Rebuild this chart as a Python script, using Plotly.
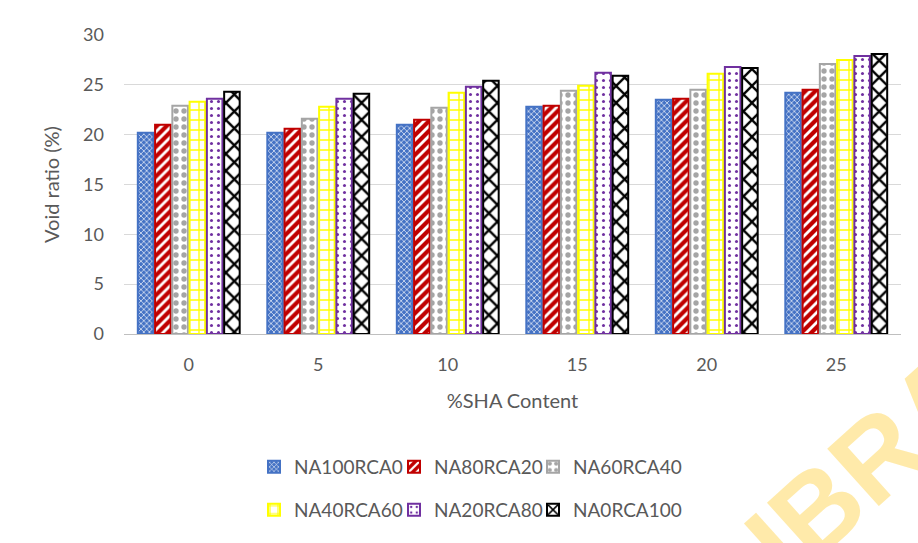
import plotly.graph_objects as go

categories = ["0", "5", "10", "15", "20", "25"]
series_names = ["NA100RCA0", "NA80RCA20", "NA60RCA40", "NA40RCA60", "NA20RCA80", "NA0RCA100"]
na100rca0 = [20.2, 20.2, 21.0, 22.8, 23.5, 24.2]
na80rca20 = [21.0, 20.6, 21.5, 22.9, 23.6, 24.5]
na60rca40 = [22.9, 21.6, 22.7, 24.4, 24.5, 27.1]
na40rca60 = [23.3, 22.8, 24.2, 24.9, 26.1, 27.5]
na20rca80 = [23.6, 23.6, 24.8, 26.2, 26.8, 27.9]
na0rca100 = [24.3, 24.1, 25.4, 25.9, 26.7, 28.1]
values = [na100rca0, na80rca20, na60rca40, na40rca60, na20rca80, na0rca100]

styles = [
    dict(line="#4472C4", shape="x", fg="#FFFFFF", bg="#4472C4", size=4, solidity=0.3),
    dict(line="#C00000", shape="/", fg="#FFFFFF", bg="#C00000", size=7, solidity=0.4),
    dict(line="#A5A5A5", shape=".", fg="#A5A5A5", bg="#FFFFFF", size=8, solidity=0.35),
    dict(line="#FFFF00", shape="+", fg="#FFFF00", bg="#FFFFFF", size=10, solidity=0.25),
    dict(line="#7030A0", shape=".", fg="#7030A0", bg="#FFFFFF", size=7, solidity=0.15),
    dict(line="#000000", shape="x", fg="#000000", bg="#FFFFFF", size=12, solidity=0.35),
]

legend_ids = ["legend", "legend2", "legend3", "legend4", "legend5", "legend6"]

fig = go.Figure()
for i, (name, vals, st) in enumerate(zip(series_names, values, styles)):
    fig.add_trace(go.Bar(
        x=categories, y=vals, name=name,
        legend=legend_ids[i],
        marker=dict(
            color=st["bg"],
            line=dict(color=st["line"], width=2),
            pattern=dict(shape=st["shape"], fgcolor=st["fg"], bgcolor=st["bg"],
                         size=st["size"], solidity=st["solidity"], fillmode="replace"),
        ),
    ))

font_family = "Lato, Carlito, Liberation Sans, sans-serif"
legend_common = dict(orientation="h", xref="container", xanchor="left",
                     yanchor="middle", yref="container",
                     font=dict(size=19, color="#595959"), itemwidth=30,
                     bgcolor="rgba(0,0,0,0)")
col_x = [254, 394, 533]
row_y = [0.140, 0.061]
legends = {}
for i, lid in enumerate(legend_ids):
    legends[lid] = dict(x=col_x[i % 3] / 918, y=row_y[i // 3], **legend_common)

fig.update_layout(
    width=918, height=543,
    paper_bgcolor="white", plot_bgcolor="white",
    margin=dict(l=124, r=17, t=35, b=209, autoexpand=False),
    barmode="group", bargap=0.2, bargroupgap=0.1,
    font=dict(family=font_family, size=18, color="#595959"),
    xaxis=dict(
        type="category", showgrid=False, showline=True, linecolor="#BFBFBF", linewidth=1,
        ticks="", ticklabelstandoff=14, tickfont=dict(size=18, color="#595959"),
        title=dict(text="%SHA Content", font=dict(size=20, color="#595959"), standoff=20),
        automargin=False,
    ),
    yaxis=dict(
        range=[0, 30], dtick=5, showgrid=True, gridcolor="#D9D9D9", gridwidth=1,
        zeroline=False, showline=False, ticks="", ticklabelstandoff=19,
        tickfont=dict(size=18, color="#595959"),
        title=dict(text="Void ratio (%)", font=dict(size=20, color="#595959"), standoff=18),
        automargin=False,
    ),
    showlegend=True,
    **legends,
)

fig.add_annotation(
    xref="paper", yref="paper", x=0.955, y=-0.44, xanchor="center", yanchor="middle",
    text="<b>IBRA</b>", showarrow=False,
    textangle=-42, font=dict(size=112, color="#FFEAAA", family="Liberation Sans"),
)

fig.write_html("out.html", config={"displayModeBar": False},
               post_script="document.body.style.margin='0';document.body.style.overflow='hidden';")
